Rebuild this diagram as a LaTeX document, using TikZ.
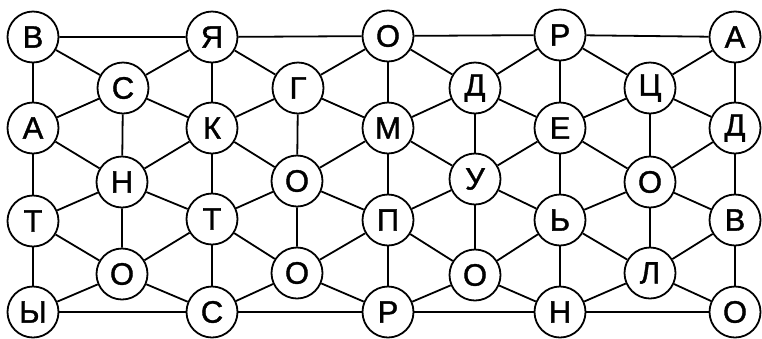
\documentclass[tikz,border=0pt]{standalone}
\usepackage{fontspec}
\setmainfont{Liberation Sans}[FakeBold=1.2]
\begin{document}
\begin{tikzpicture}[x=1bp,y=-1bp,
  letter/.style={circle,draw,line width=1.8bp,minimum size=51bp,inner sep=0pt,fill=white,
    font=\fontsize{31bp}{31bp}\selectfont},
  link/.style={line width=1.8bp}]
\useasboundingbox (0,0) rectangle (762,338);
% outer columns (rows 0,2,4,6)
\node[letter] (a0) at (33,37) {В};
\node[letter] (a2) at (33,128) {А};
\node[letter] (a4) at (33,221) {Т};
\node[letter] (a6) at (33,312) {Ы};
\node[letter] (c0) at (212,37) {Я};
\node[letter] (c2) at (212,128) {К};
\node[letter] (c4) at (212,219) {Т};
\node[letter] (c6) at (212,312) {С};
\node[letter] (e0) at (388,36) {О};
\node[letter] (e2) at (388,128) {М};
\node[letter] (e4) at (388,220) {П};
\node[letter] (e6) at (388,312) {Р};
\node[letter] (g0) at (560,35) {Р};
\node[letter] (g2) at (560,128) {Е};
\node[letter] (g4) at (560,220) {Ь};
\node[letter] (g6) at (560,312) {Н};
\node[letter] (i0) at (735,37) {А};
\node[letter] (i2) at (735,128) {Д};
\node[letter] (i4) at (735,220) {В};
\node[letter] (i6) at (735,312) {О};
% inner columns (rows 1,3,5)
\node[letter] (b1) at (123,88) {С};
\node[letter] (b3) at (122,182) {Н};
\node[letter] (b5) at (122,274) {О};
\node[letter] (d1) at (298,88) {Г};
\node[letter] (d3) at (297,181) {О};
\node[letter] (d5) at (297,273) {О};
\node[letter] (f1) at (475,88) {Д};
\node[letter] (f3) at (475,179) {У};
\node[letter] (f5) at (475,275) {О};
\node[letter] (h1) at (650,88) {Ц};
\node[letter] (h3) at (650,182) {О};
\node[letter] (h5) at (650,273) {Л};
% horizontal edges
\draw[link] (a0) -- (c0) (c0) -- (e0) (e0) -- (g0) (g0) -- (i0);
\draw[link] (a6) -- (c6) (c6) -- (e6) (e6) -- (g6) (g6) -- (i6);
% vertical edges of outer columns
\foreach \c in {a,c,e,g,i} {
  \draw[link] (\c0) -- (\c2) (\c2) -- (\c4) (\c4) -- (\c6);
}
% vertical edges of inner columns
\foreach \c in {b,d,f,h} {
  \draw[link] (\c1) -- (\c3) (\c3) -- (\c5);
}
% diagonals
\foreach \l/\c/\r in {a/b/c,c/d/e,e/f/g,g/h/i} {
  \draw[link] (\c1) -- (\l0) (\c1) -- (\r0) (\c1) -- (\l2) (\c1) -- (\r2);
  \draw[link] (\c3) -- (\l2) (\c3) -- (\r2) (\c3) -- (\l4) (\c3) -- (\r4);
  \draw[link] (\c5) -- (\l4) (\c5) -- (\r4) (\c5) -- (\l6) (\c5) -- (\r6);
}
\end{tikzpicture}
\end{document}
